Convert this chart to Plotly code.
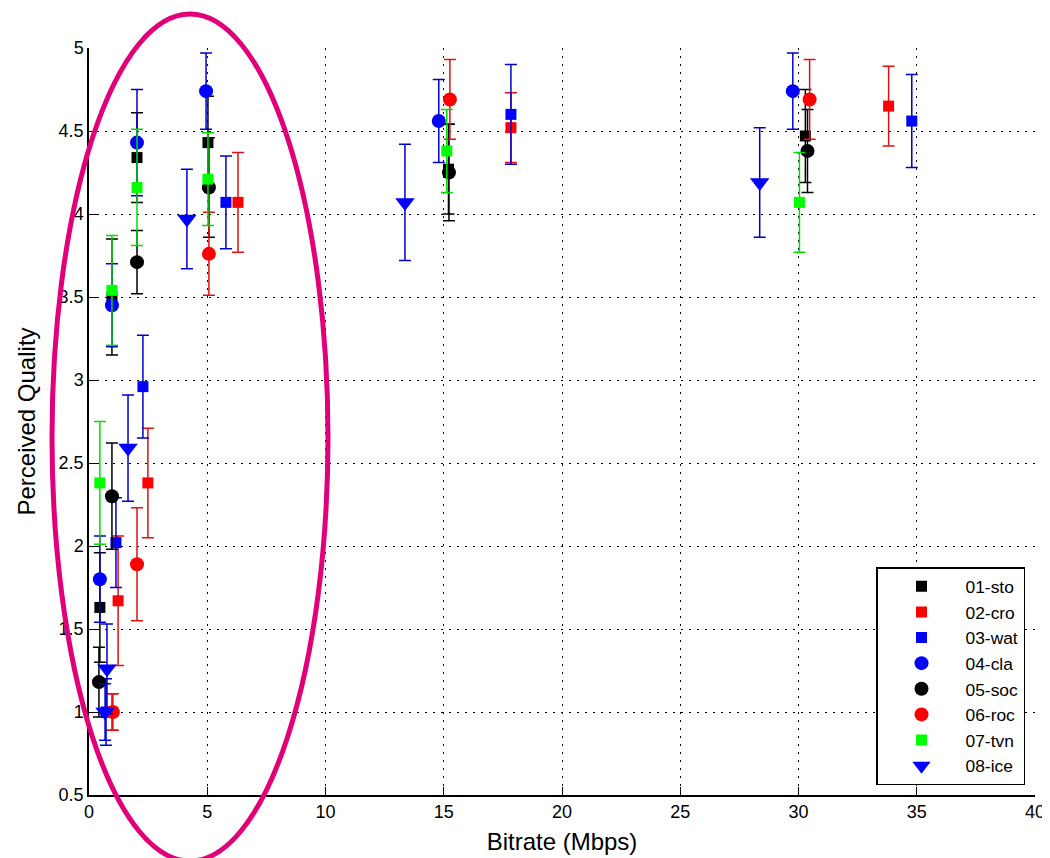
import plotly.graph_objects as go

# ---- data ----
names = ["01-sto", "02-cro", "03-wat", "04-cla", "05-soc", "06-roc", "07-tvn", "08-ice"]

x_sto = [0.46, 0.97, 2.03, 5.03, 15.20, 30.29]
y_sto = [1.63, 3.50, 4.34, 4.43, 4.27, 4.47]
e_sto = [0.33, 0.35, 0.27, 0.28, 0.27, 0.28]

x_cro = [0.97, 1.23, 2.49, 6.30, 17.84, 33.81]
y_cro = [1.00, 1.67, 2.38, 4.07, 4.52, 4.65]
e_cro = [0.11, 0.39, 0.33, 0.30, 0.21, 0.24]

x_wat = [0.72, 1.14, 2.28, 5.79, 17.84, 34.79]
y_wat = [1.00, 2.02, 2.96, 4.07, 4.60, 4.56]
e_wat = [0.20, 0.27, 0.31, 0.28, 0.30, 0.28]

x_cla = [0.46, 0.97, 2.03, 4.95, 14.79, 29.76]
y_cla = [1.80, 3.45, 4.43, 4.74, 4.56, 4.74]
e_cla = [0.26, 0.25, 0.32, 0.23, 0.25, 0.23]

x_soc = [0.42, 0.97, 2.03, 5.07, 15.22, 30.38]
y_soc = [1.18, 2.30, 3.71, 4.16, 4.25, 4.38]
e_soc = [0.21, 0.32, 0.19, 0.30, 0.29, 0.25]

x_roc = [1.01, 2.03, 5.07, 15.26, 30.47]
y_roc = [1.00, 1.89, 3.76, 4.69, 4.69]
e_roc = [0.11, 0.34, 0.25, 0.24, 0.24]

x_tvn = [0.46, 0.97, 2.03, 5.03, 15.13, 30.04]
y_tvn = [2.38, 3.54, 4.16, 4.21, 4.38, 4.07]
e_tvn = [0.37, 0.33, 0.35, 0.28, 0.25, 0.30]

x_ice = [0.68, 0.76, 1.65, 4.14, 13.36, 28.36]
y_ice = [1.00, 1.26, 2.59, 3.97, 4.07, 4.19]
e_ice = [0.17, 0.27, 0.32, 0.30, 0.35, 0.33]

xs = [x_sto, x_cro, x_wat, x_cla, x_soc, x_roc, x_tvn, x_ice]
ys = [y_sto, y_cro, y_wat, y_cla, y_soc, y_roc, y_tvn, y_ice]
es = [e_sto, e_cro, e_wat, e_cla, e_soc, e_roc, e_tvn, e_ice]

colors = ["#000000", "#FF0000", "#0000FF", "#0000FF", "#000000", "#FF0000", "#00FF00", "#0000FF"]
bar_colors = ["#000000", "#E01010", "#0000CC", "#0000CC", "#000000", "#E01010", "#00DD00", "#0000CC"]
symbols = ["square", "square", "square", "circle", "circle", "circle", "square", "triangle-down"]
sizes = [11, 11, 11, 14, 14, 14, 11, 17]

x_ticks = [0, 5, 10, 15, 20, 25, 30, 35, 40]
y_ticks = [0.5, 1, 1.5, 2, 2.5, 3, 3.5, 4, 4.5, 5]

FONT = "Liberation Sans, Arial, sans-serif"

fig = go.Figure()
for n, x, y, e, c, bc, s, sz in zip(names, xs, ys, es, colors, bar_colors, symbols, sizes):
    fig.add_trace(go.Scatter(
        x=x, y=y, name=n, mode="markers",
        marker=dict(color=c, symbol=s, size=sz, line=dict(width=0)),
        error_y=dict(type="data", array=e, visible=True, color=bc,
                     thickness=1.5, width=6),
    ))

# page has an 8px body margin; figure is sized so the plot area lands on
# window pixels x 89..1035, y 48..795
OFF = 8
W, H = 1042, 850
L, T = 89 - OFF, 48 - OFF
pw, ph = 946, 747
R = W - L - pw
B = H - T - ph

def px_x(p):
    return (p - OFF - L) / pw

def px_y(p):
    return (T + ph - (p - OFF)) / ph

# highlight ellipse (annotation)
fig.add_shape(type="circle", xref="paper", yref="paper",
              x0=px_x(52), x1=px_x(328), y0=px_y(861), y1=px_y(14),
              line=dict(color="#E2007A", width=5), layer="above")

axis_common = dict(
    showline=True, linecolor="black", linewidth=1.5,
    ticks="inside", ticklen=8, tickwidth=1.2, tickcolor="black",
    showgrid=True, gridcolor="black", gridwidth=1, griddash="2px,6px",
    zeroline=False, mirror=False,
    tickfont=dict(family=FONT, size=18, color="black"),
)

fig.update_layout(
    width=W, height=H,
    margin=dict(l=L, r=R, t=T, b=B, autoexpand=False),
    paper_bgcolor="white", plot_bgcolor="white",
    font=dict(family=FONT, color="black"),
    xaxis=dict(range=[0, 40], tickvals=x_ticks, **axis_common,
               title=dict(text="Bitrate (Mbps)", font=dict(family=FONT, size=24, color="black"), standoff=12)),
    yaxis=dict(range=[0.5, 5], tickvals=y_ticks, **axis_common,
               title=dict(text="Perceived Quality", font=dict(family=FONT, size=24, color="black"), standoff=16)),
    legend=dict(x=px_x(1025), xanchor="right", y=px_y(785), yanchor="bottom",
                bgcolor="white", bordercolor="black", borderwidth=1.5,
                font=dict(family=FONT, size=17.4, color="black"),
                itemwidth=78),
    showlegend=True,
)

fig.write_html("out.html")
